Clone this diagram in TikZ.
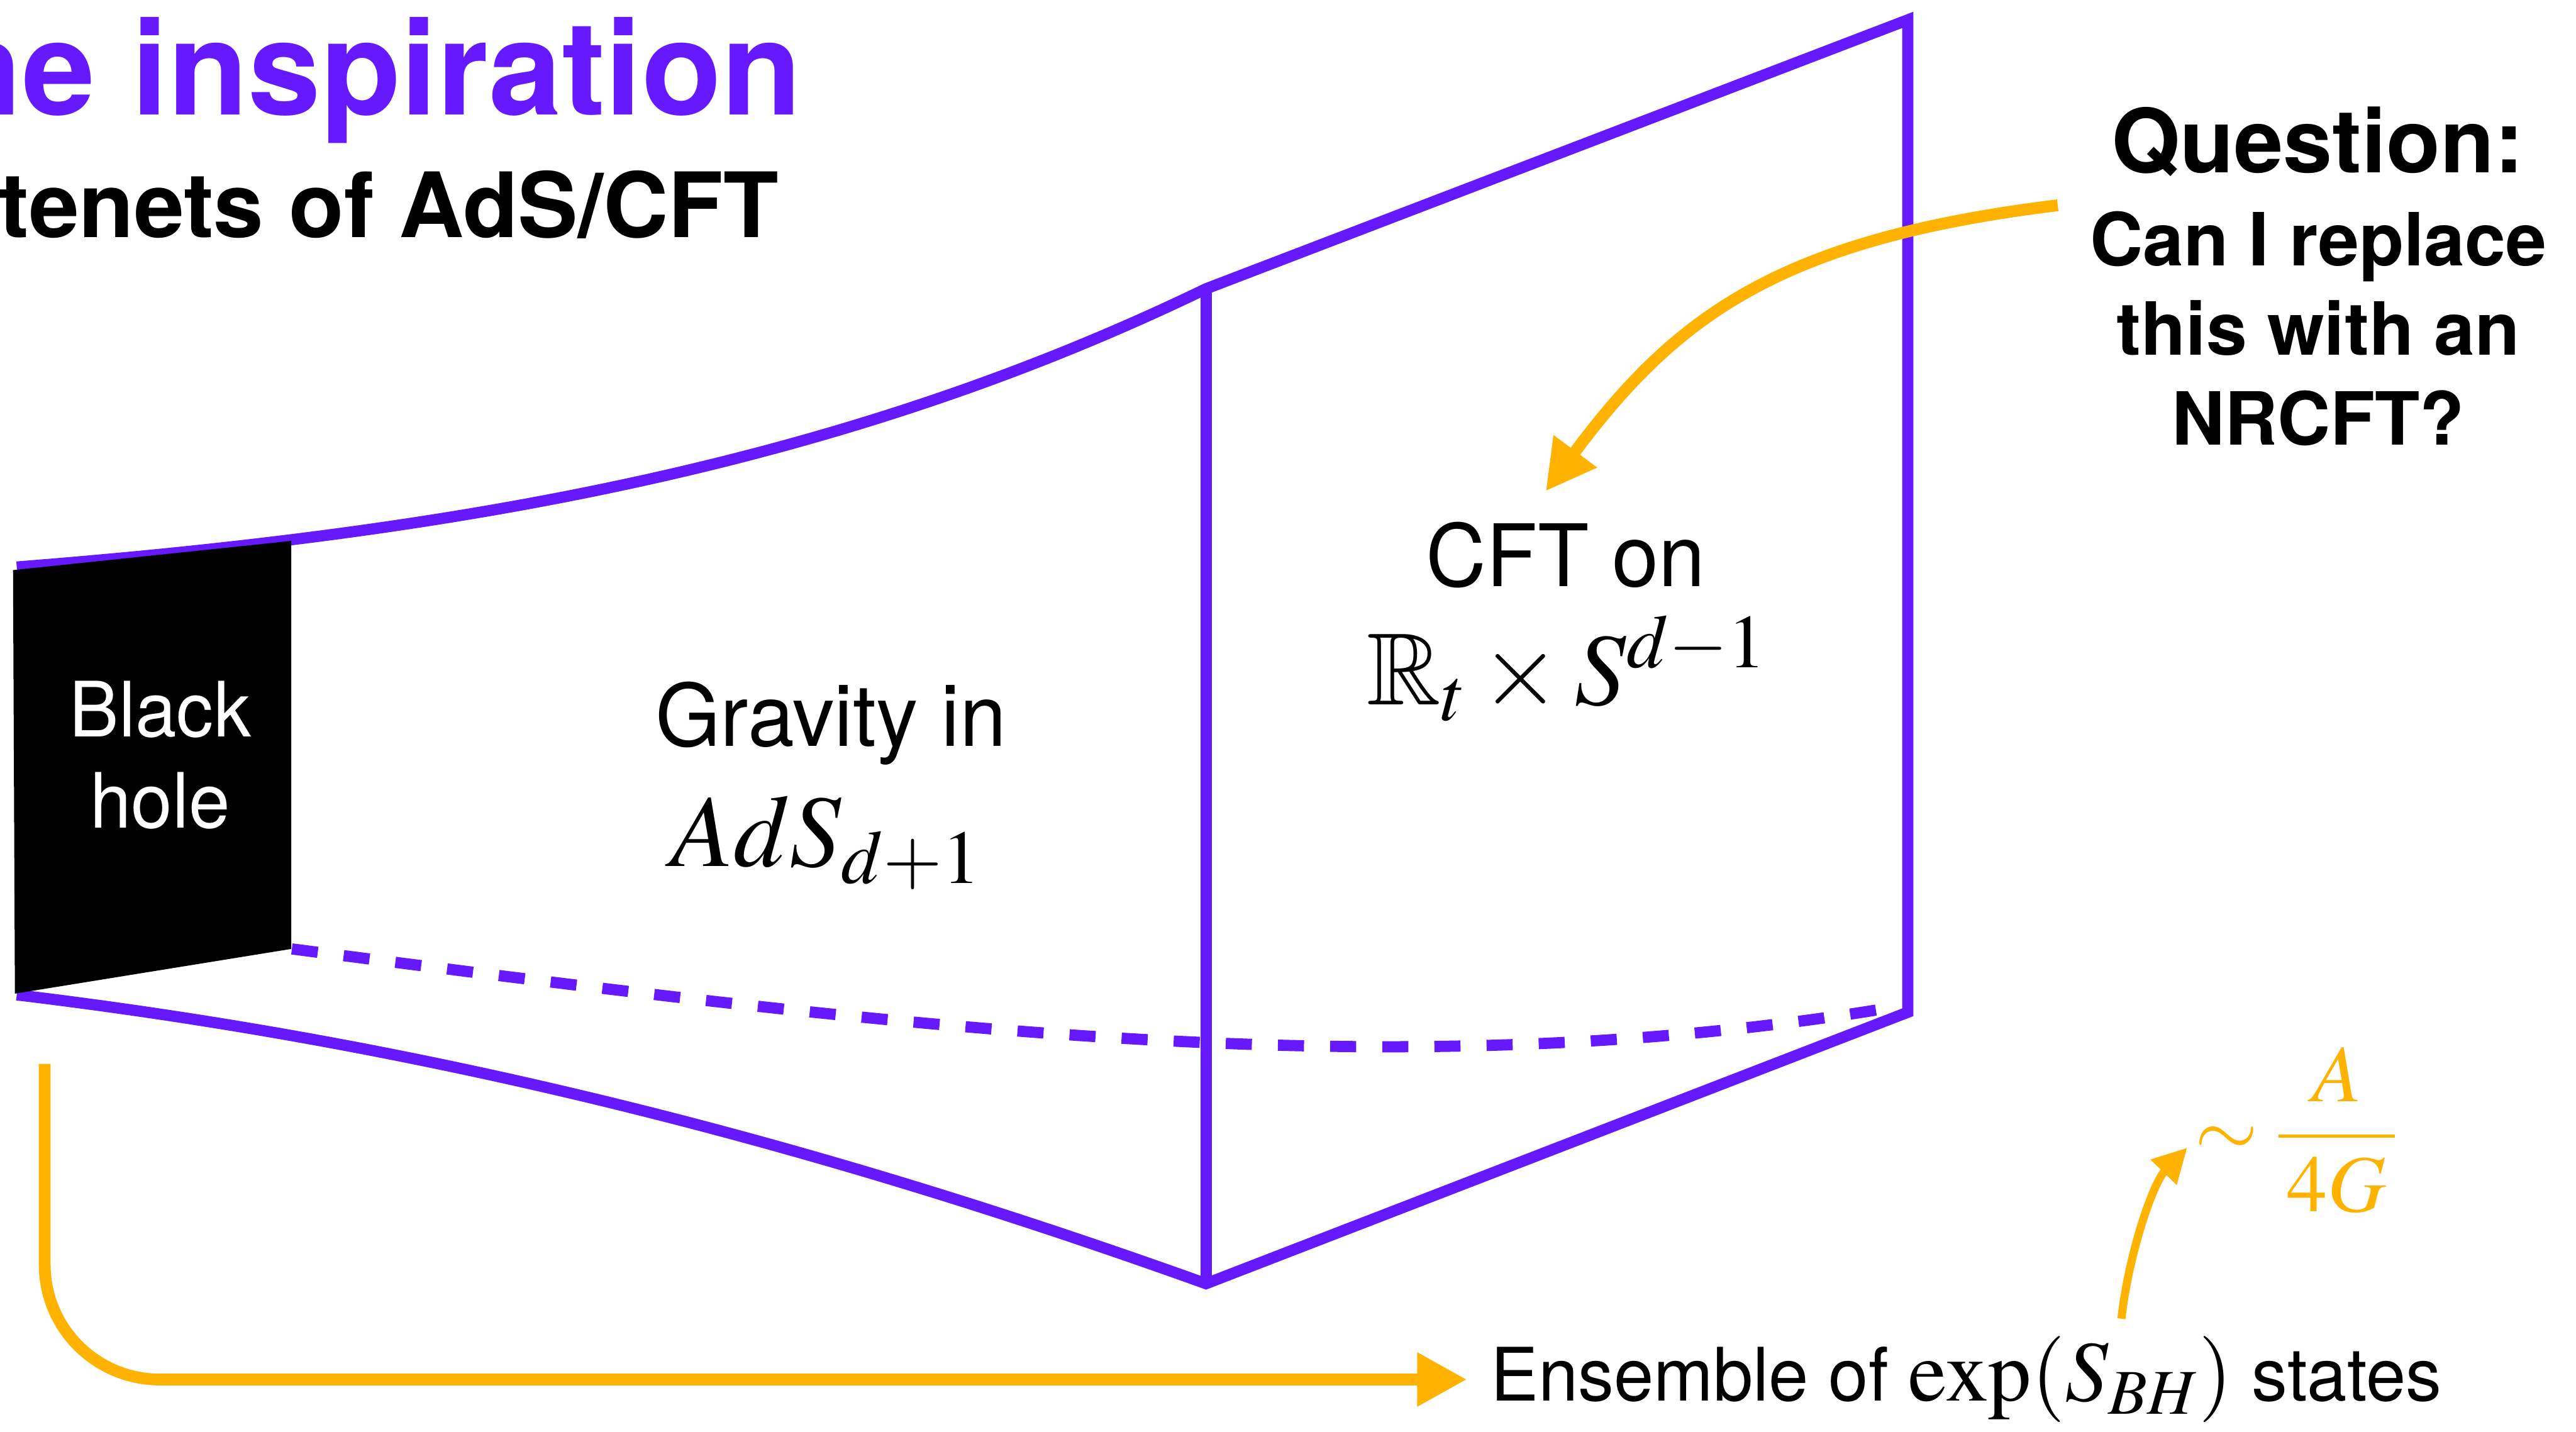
\documentclass[tikz,border=0pt]{standalone}
\usepackage{amsmath}
\usepackage{mathptmx}
\usepackage{amssymb}
\usepackage[no-math]{fontspec}
\setmainfont{TeX Gyre Heros}[UprightFeatures={FakeStretch=0.97}]
\usetikzlibrary{arrows.meta}
\definecolor{grape}{HTML}{6619FF}
\definecolor{amber}{HTML}{FFB300}

\tikzset{
  wall/.style={grape, line width=0.18cm},
  flow/.style={amber, line width=0.19cm, -{Triangle[length=0.8cm,width=0.82cm]}},
  bodytext/.style={font=\fontsize{39.5}{47}\selectfont},
  bigmath/.style={font=\fontsize{47}{56}\selectfont},
  ask/.style={font=\fontsize{33.6}{40}\selectfont\bfseries},
}

\begin{document}
\begin{tikzpicture}[x=1cm, y=-1cm]
  \useasboundingbox (0,0) rectangle (41.48,23.05);
  \clip (0,0) rectangle (41.48,23.05);
  % bulk funnel
  \draw[wall] (0.27,9.13) .. controls (7.27,8.58) and (13.46,7.53) .. (19.42,4.65)
    -- (30.72,0.32) -- (30.72,16.30) -- (19.42,20.67)
    .. controls (13.40,18.51) and (7.27,16.86) .. (0.27,16.02);
  \draw[wall] (19.42,4.65) -- (19.42,20.67);
  \draw[wall, dash pattern=on 0.42cm off 0.42cm] (4.70,15.28)
    .. controls (14.70,16.58) and (22.60,17.56) .. (30.60,16.20);
  % horizon
  \fill[black] (0.21,9.18) -- (4.69,8.71) -- (4.69,15.28) -- (0.24,16.00) -- cycle;
  \node[white, align=center, font=\fontsize{35}{41.8}\selectfont] (bh) at (2.58,12.16) {Black\\hole};

  % headline
  \node[anchor=base east, inner sep=0pt, grape, font=\fontsize{60}{72}\selectfont\bfseries] (title) at (12.92,1.85) {The inspiration};
  \node[anchor=base east, inner sep=0pt, font=\fontsize{41.3}{50}\selectfont\bfseries] (sub) at (12.54,3.82) {tenets of AdS/CFT};

  \node[bodytext, anchor=base] (grav) at (13.38,12.02) {Gravity in};
  \node[bigmath, anchor=base] (ads) at (13.30,13.95) {$AdS_{d+1}$};
  \node[bodytext, anchor=base] (cft) at (25.21,9.44) {CFT on};
  \node[bigmath, anchor=base] (bdry) at (25.23,11.35) {$\mathbb{R}_t\times S^{d-1}$};

  \node[font=\fontsize{40.5}{50}\selectfont\bfseries, anchor=base] (qhead) at (37.32,2.78) {Question:};
  \node[ask, anchor=base] (qa) at (37.33,4.28) {Can I replace};
  \node[ask, anchor=base] (qb) at (37.33,5.72) {this with an};
  \node[ask, anchor=base] (qc) at (37.33,7.16) {NRCFT?};

  \node[anchor=base west, font=\fontsize{33.8}{41}\selectfont] (ens) at (23.88,22.56)
    {Ensemble of {\fontsize{39.5}{48}\selectfont$\exp(S_{BH})$} states};
  \node[amber, anchor=west, font=\fontsize{37}{44}\selectfont] (area) at (35.22,18.20)
    {$\sim\dfrac{A}{\mkern2mu 4G\mkern2mu}$};

  % arrows
  \coordinate (foot) at (0.72,17.13);
  \draw[flow, rounded corners=1.85cm] (foot) |- ([xshift=-0.26cm]ens.west);
  \draw[flow] ([xshift=-0.74cm,yshift=-0.34cm]qhead.south west)
    .. controls (28.68,3.85) and (27.00,5.07) .. ([xshift=-0.32cm,yshift=0.37cm]cft.north);
  \draw[flow, line width=0.13cm, -{Triangle[length=0.55cm,width=0.55cm]}] ([xshift=2.50cm,yshift=0.16cm]ens.north)
    .. controls (34.28,20.17) and (34.67,19.05) .. ([yshift=-0.28cm]area.west);
\end{tikzpicture}
\end{document}
